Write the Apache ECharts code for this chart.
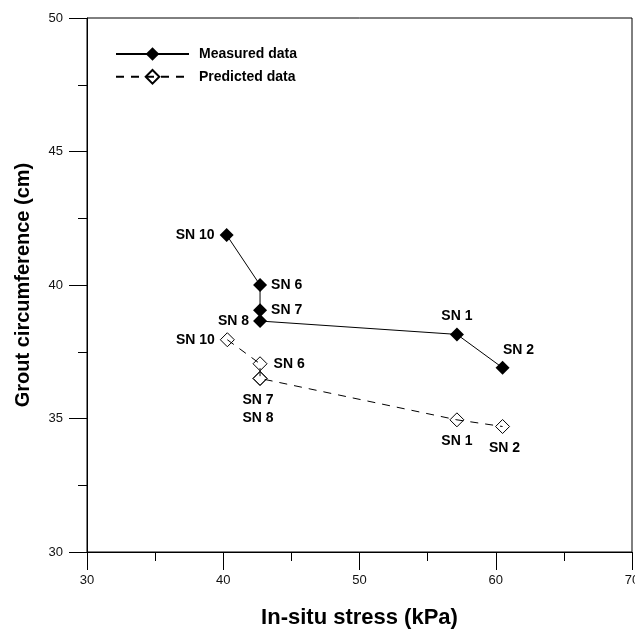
<!DOCTYPE html>
<html>
<head>
<meta charset="utf-8">
<script src="https://cdn.jsdelivr.net/npm/echarts@6/dist/echarts.min.js"></script>
<style>
  html, body { margin: 0; padding: 0; background: #fff; }
  #chart { width: 635px; height: 634px; }
</style>
</head>
<body>
<div id="chart"></div>
<script>
// point names, in the order the lines are drawn
const pointNames = ['SN 10', 'SN 6', 'SN 7', 'SN 8', 'SN 1', 'SN 2']
const seriesNames = ['Measured data', 'Predicted data']

// in-situ stress (kPa) and grout circumference (cm)
const measuredStress = [40.25, 42.7, 42.7, 42.7, 57.15, 60.5]
const measuredCircumference = [41.87, 40.0, 39.05, 38.65, 38.15, 36.9]
const predictedStress = [40.3, 42.7, 42.7, 42.7, 57.15, 60.5]
const predictedCircumference = [37.95, 37.05, 36.5, 36.5, 34.95, 34.7]

// axes
const xRange = [30, 70]
const xStep = 10
const yRange = [30, 50]
const yStep = 5
const xTitle = 'In-situ stress (kPa)'
const yTitle = 'Grout circumference (cm)'

const font = 'Liberation Sans'
const labelText = { fontFamily: font, fontWeight: 'bold', fontSize: 14, color: '#000' }

// where each point's name sits
const measuredLabels = [
  { position: 'left', distance: 5 },
  { position: 'right', distance: 4 },
  { position: 'right', distance: 4 },
  { position: 'left', distance: 4 },
  { position: 'top', distance: 4 },
  { position: 'top', distance: 4, offset: [16, 0] },
]
const predictedLabels = [
  { position: 'left', distance: 5 },
  { position: 'right', distance: 6 },
  { position: 'bottom', distance: 5, lineHeight: 18, offset: [-2, 0], formatter: pointNames[2] + '\n' + pointNames[3] },
  { show: false },
  { position: 'bottom', distance: 7 },
  { position: 'bottom', distance: 7, offset: [2, 0] },
]

const buildData = (xs, ys, labels) =>
  xs.map((x, i) => ({
    value: [x, ys[i]],
    label: Object.assign({ show: true, formatter: pointNames[i] }, labelText, labels[i]),
  }))

const myChart = echarts.init(document.getElementById('chart'))

const axisCommon = {
  axisLine: { show: true, lineStyle: { color: '#000', width: 1 } },
  axisTick: { show: true, inside: false, length: 18, lineStyle: { color: '#000', width: 1 } },
  minorTick: { show: true, splitNumber: 2, length: 9, lineStyle: { color: '#000', width: 1 } },
  splitLine: { show: false },
}

const option = {
  backgroundColor: '#fff',
  animation: false,
  grid: {
    left: 87,
    right: 3,
    top: 18,
    bottom: 82,
    show: true,
    borderColor: '#000',
    borderWidth: 1,
    backgroundColor: 'transparent',
    containLabel: false,
    outerBoundsMode: 'none',
  },
  legend: {
    orient: 'vertical',
    left: 115,
    top: 47,
    padding: 0,
    itemWidth: 73,
    itemHeight: 17,
    itemGap: 8,
    data: seriesNames,
    textStyle: { fontFamily: font, fontWeight: 'bold', fontSize: 14, color: '#000', padding: [0, 0, 0, 5] },
  },
  xAxis: Object.assign({}, axisCommon, {
    type: 'value',
    min: xRange[0],
    max: xRange[1],
    interval: xStep,
    name: xTitle,
    nameLocation: 'middle',
    nameGap: 55,
    nameTextStyle: { fontFamily: font, fontWeight: 'bold', fontSize: 22, color: '#000' },
    axisLabel: { margin: 22, fontFamily: font, fontSize: 13, color: '#111' },
  }),
  yAxis: Object.assign({}, axisCommon, {
    type: 'value',
    min: yRange[0],
    max: yRange[1],
    interval: yStep,
    name: yTitle,
    nameLocation: 'middle',
    nameGap: 54,
    nameTextStyle: { fontFamily: font, fontWeight: 'bold', fontSize: 20, color: '#000' },
    axisLabel: { margin: 24, fontFamily: font, fontSize: 13, color: '#111' },
  }),
  series: [
    {
      name: seriesNames[0],
      type: 'line',
      data: buildData(measuredStress, measuredCircumference, measuredLabels),
      symbol: 'diamond',
      symbolSize: 14,
      lineStyle: { color: '#000', width: 1, type: 'solid' },
      itemStyle: { color: '#000', borderColor: '#000', borderWidth: 0 },
      emphasis: { disabled: true },
      z: 3,
    },
    {
      name: seriesNames[1],
      type: 'line',
      data: buildData(predictedStress, predictedCircumference, predictedLabels),
      symbol: 'diamond',
      symbolSize: 14,
      lineStyle: { color: '#000', width: 1, type: [8, 7] },
      itemStyle: { color: 'rgba(255,255,255,0)', borderColor: '#000', borderWidth: 1 },
      emphasis: { disabled: true },
      z: 2,
    },
  ],
}

myChart.setOption(option)
</script>
</body>
</html>
